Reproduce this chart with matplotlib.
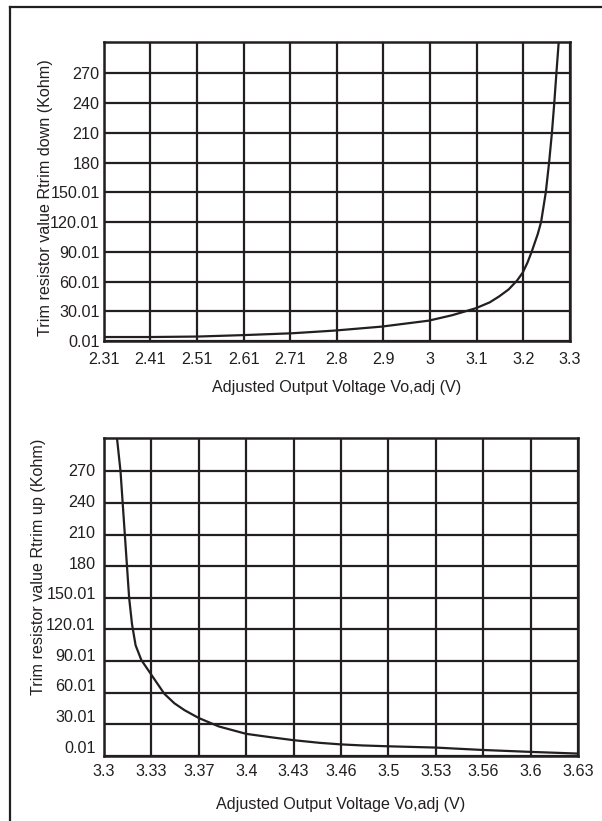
import numpy as np
import matplotlib
matplotlib.use("Agg")
import matplotlib.pyplot as plt
from matplotlib.lines import Line2D

plt.rcParams["font.family"] = ["Liberation Sans", "DejaVu Sans"]

# 数据：调低电压（上图）
down_v = [2.31, 2.41, 2.51, 2.61, 2.71, 2.80, 2.90, 3.00, 3.05, 3.10, 3.13, 3.15,
          3.17, 3.188, 3.20, 3.21, 3.219, 3.232, 3.239, 3.249, 3.256, 3.262, 3.267,
          3.2715, 3.2765]
down_r = [4.0, 4.0, 4.5, 6.0, 7.8, 10.5, 14.5, 20.5, 26, 33, 39, 45,
          52, 61, 69, 79, 90, 108, 120, 150, 180, 210, 240,
          270, 302]
down_xticks = ["2.31", "2.41", "2.51", "2.61", "2.71", "2.8", "2.9", "3", "3.1", "3.2", "3.3"]

# 数据：调高电压（下图）
up_v = [3.309, 3.3115, 3.313, 3.3145, 3.316, 3.3175, 3.3195, 3.322, 3.326, 3.333,
        3.342, 3.349, 3.356, 3.366, 3.380, 3.399, 3.415, 3.432, 3.45, 3.465,
        3.48, 3.498, 3.531, 3.545, 3.564, 3.597, 3.63]
up_r = [302, 270, 240, 210, 180, 150, 125, 105, 91, 77,
        59, 50, 43.5, 36, 28, 21, 18, 15, 12.5, 11,
        10, 9.2, 8, 7, 5.7, 3.9, 2.3]
up_xticks = ["3.3", "3.33", "3.37", "3.4", "3.43", "3.46", "3.5", "3.53", "3.56", "3.6", "3.63"]

y_grid = [0, 30, 60, 90, 120, 150, 180, 210, 240, 270]
y_labels = ["0.01", "30.01", "60.01", "90.01", "120.01", "150.01", "180", "210", "240", "270"]

ink = "#231f20"
fs = 11.6

fig = plt.figure(figsize=(6.02, 8.21), dpi=100)

# 外框（只有上边和左边）
fig.add_artist(Line2D([10 / 602, 1.0], [1 - 7 / 821, 1 - 7 / 821], color=ink, lw=1.6, transform=fig.transFigure))
fig.add_artist(Line2D([10 / 602, 10 / 602], [0.0, 1 - 7 / 821], color=ink, lw=1.6, transform=fig.transFigure))


def setup(ax, v, r, xlabels, ylabel, label_shift, ylab_xy, xlab_y, xpad, ypad):
    xmin, xmax = float(xlabels[0]), float(xlabels[-1])
    ax.plot(v, r, color=ink, lw=1.6, zorder=3)
    ax.set_xlim(xmin, xmax)
    ax.set_ylim(0, 301.6)
    ax.set_xticks(np.linspace(xmin, xmax, len(xlabels)))
    ax.set_xticklabels(xlabels, fontsize=fs, color=ink)
    # 网格线用次刻度，标签用主刻度（下图标签略有偏移）
    ax.yaxis.remove_overlapping_locs = False
    ax.set_yticks(y_grid, minor=True)
    ax.set_yticks([g * (1 - label_shift / 300) + label_shift for g in y_grid])
    ax.set_yticklabels(y_labels, fontsize=fs, color=ink)
    ax.tick_params(axis="both", which="both", length=0)
    ax.tick_params(axis="x", pad=xpad)
    ax.tick_params(axis="y", pad=ypad)
    ax.grid(False)
    ax.xaxis.grid(True, which="major", color=ink, lw=1.6)
    ax.yaxis.grid(True, which="minor", color=ink, lw=1.6)
    ax.set_axisbelow(True)
    for s in ax.spines.values():
        s.set_color(ink)
        s.set_linewidth(1.8)
    ax.set_xlabel("Adjusted Output Voltage Vo,adj (V)", fontsize=fs, color=ink)
    ax.xaxis.set_label_coords(0.5, xlab_y)
    ax.set_ylabel(ylabel, fontsize=fs, color=ink)
    ax.yaxis.set_label_coords(*ylab_xy)


ax1 = fig.add_axes([103.8 / 602, 1 - 341 / 821, 466 / 602, 299 / 821])
setup(ax1, down_v, down_r, down_xticks, "Trim resistor value Rtrim down (Kohm)",
      0.0, (-0.109, 0.478), -0.13, 8, 3)

ax2 = fig.add_axes([104 / 602, 1 - 756 / 821, 474 / 602, 318 / 821])
setup(ax2, up_v, up_r, up_xticks, "Trim resistor value Rtrim up (Kohm)",
      8.8, (-0.122, 0.594), -0.128, 6, 6)

fig.savefig("out.png", dpi=100)
